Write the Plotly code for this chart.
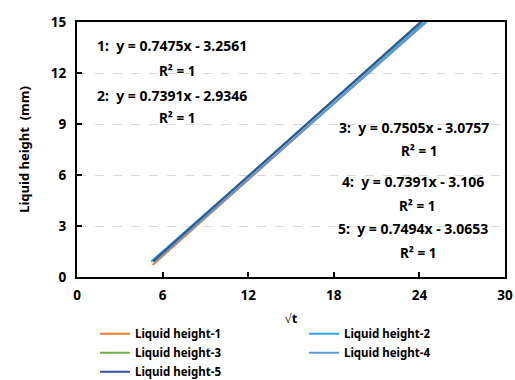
import plotly.graph_objects as go

# Square root of time (x) and liquid height in mm (y) for five runs
sqrt_t_1 = [5.30, 10.0, 15.0, 20.0, 24.42]
height_1 = [0.706, 4.219, 7.956, 11.694, 15.0]
sqrt_t_2 = [5.20, 10.0, 15.0, 20.0, 24.26]
height_2 = [0.909, 4.456, 8.152, 11.847, 14.996]
sqrt_t_3 = [5.30, 10.0, 15.0, 20.0, 24.09]
height_3 = [0.902, 4.429, 8.182, 11.934, 15.004]
sqrt_t_4 = [5.40, 10.0, 15.0, 20.0, 24.50]
height_4 = [0.885, 4.285, 7.981, 11.676, 15.002]
sqrt_t_5 = [5.35, 10.0, 15.0, 20.0, 24.10]
height_5 = [0.944, 4.429, 8.176, 11.923, 14.995]

series_names = ["Liquid height-1", "Liquid height-2", "Liquid height-3",
                "Liquid height-4", "Liquid height-5"]
series_colors = ["#ED7D31", "#2EA6E6", "#70AD47", "#5B9BD5", "#2F5597"]

fit_labels = ["1:  y = 0.7475x - 3.2561", "2:  y = 0.7391x - 2.9346",
              "3:  y = 0.7505x - 3.0757", "4:  y = 0.7391x - 3.106",
              "5:  y = 0.7494x - 3.0653"]
r2_label = "R² = 1"
# label anchors: (x of equation, y of equation, x of R², y of R²)
fit_pos = [(6.68, 13.59, 7.0, 12.12), (6.68, 10.65, 7.0, 9.35),
           (23.65, 8.78, 24.0, 7.41), (23.55, 5.61, 23.8, 4.18),
           (23.55, 2.88, 23.9, 1.43)]

x_ticks = [0, 6, 12, 18, 24, 30]
y_ticks = [0, 3, 6, 9, 12, 15]

FONT = "Noto Sans"
fig = go.Figure()
xs = [sqrt_t_1, sqrt_t_2, sqrt_t_3, sqrt_t_4, sqrt_t_5]
ys = [height_1, height_2, height_3, height_4, height_5]
for x, y, n, c in zip(xs, ys, series_names, series_colors):
    fig.add_trace(go.Scatter(x=x, y=y, mode="lines", name=n,
                             line=dict(color=c, width=2)))

for lbl, (ex, ey, rx, ry) in zip(fit_labels, fit_pos):
    fig.add_annotation(x=ex, y=ey, text=f"<b>{lbl}</b>", showarrow=False,
                       font=dict(family=FONT, size=14, color="#000"))
    fig.add_annotation(x=rx, y=ry, text=f"<b>{r2_label}</b>", showarrow=False,
                       font=dict(family=FONT, size=13.5, color="#000"))

fig.update_xaxes(range=[0, 30], tickvals=x_ticks, ticks="inside", ticklen=5,
                 tickwidth=2, tickcolor="#000", showline=True, linewidth=2,
                 linecolor="#000", mirror=True, showgrid=False, zeroline=False,
                 ticklabelstandoff=5,
                 tickfont=dict(family=FONT, size=13.5, color="#000", weight="bold"),
                 title=dict(text="<b>√t</b>", font=dict(family=FONT, size=13, color="#000"),
                            standoff=11))
fig.update_yaxes(range=[0, 15], tickvals=y_ticks, ticks="inside", ticklen=5,
                 tickwidth=2, tickcolor="#000", showline=True, linewidth=2,
                 linecolor="#000", mirror=True, showgrid=True, gridcolor="#D9D9D9",
                 griddash="dash", gridwidth=1, zeroline=False,
                 ticklabelstandoff=6,
                 tickfont=dict(family=FONT, size=13.5, color="#000", weight="bold"),
                 title=dict(text="<b>Liquid height  (mm)</b>",
                            font=dict(family=FONT, size=13, color="#000"), standoff=18))

fig.update_layout(
    width=515, height=380,
    margin=dict(l=77, r=10, t=22, b=103, autoexpand=False),
    paper_bgcolor="white", plot_bgcolor="white",
    showlegend=True,
    legend=dict(orientation="h", x=0.042, xanchor="left", y=-0.166, yanchor="top",
                entrywidth=164, entrywidthmode="pixels", itemwidth=30,
                font=dict(family=FONT, size=11.5, color="#000", weight="bold"),
                tracegroupgap=0),
)

fig.write_html("out.html")
